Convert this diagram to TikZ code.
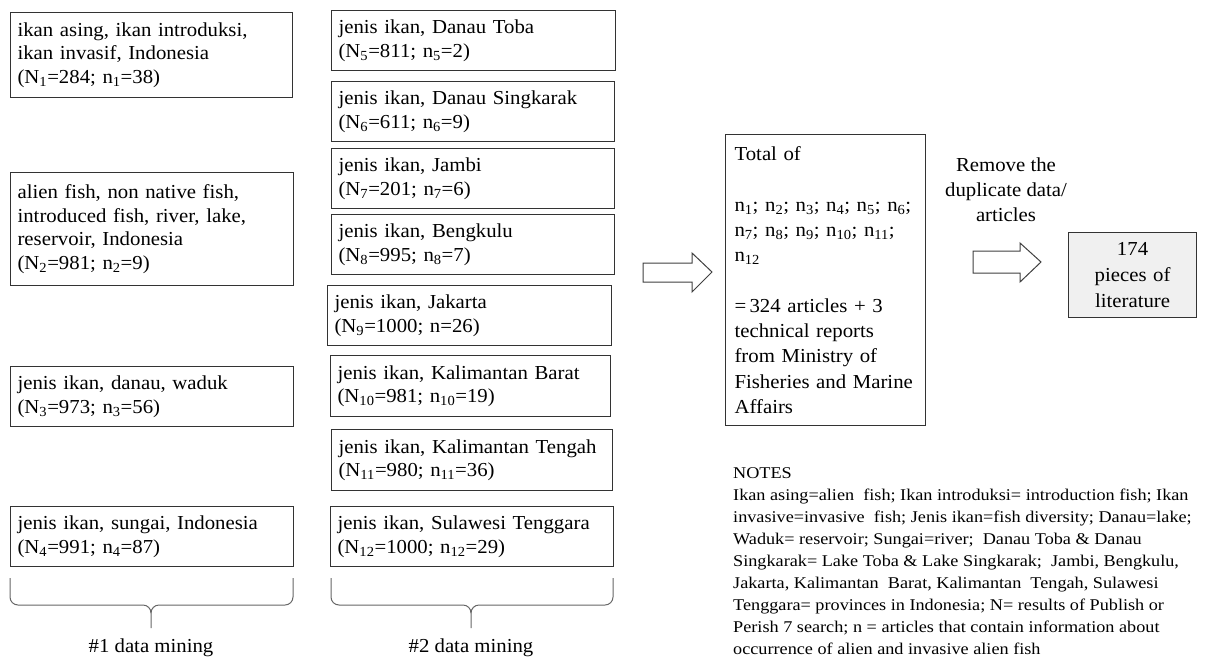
\documentclass[tikz,border=0pt]{standalone}
\usepackage{fontspec}
\setmainfont{Liberation Serif}[FakeStretch=1.05]
\newfontfamily\notesfont{Liberation Serif}[FakeStretch=1.11]
\begin{document}
\begin{tikzpicture}[x=1pt,y=-1pt,
  box/.style={draw=black!80, line width=1.1pt, anchor=north west, inner xsep=7pt, inner ysep=0pt,
    align=left, font=\fontsize{19.8}{23.5}\selectfont},
  blockarrow/.style={draw=black!75, line width=1pt, fill=white},
  bracepath/.style={draw=black!60, line width=1pt},
  lbl/.style={font=\fontsize{19.8}{25}\selectfont, align=center, inner sep=0pt}]
\useasboundingbox (0,0) rectangle (1206,656);
% left column
\node[box, text width=268pt, minimum height=85pt] (b1) at (10,12)
  {ikan asing, ikan introduksi,\\ikan invasif, Indonesia\\(N\textsubscript{1}=284; n\textsubscript{1}=38)};
\node[box, text width=269pt, minimum height=113pt] (b2) at (10,172)
  {alien fish, non native fish,\\introduced fish, river, lake,\\reservoir, Indonesia\\(N\textsubscript{2}=981; n\textsubscript{2}=9)};
\node[box, text width=269pt, minimum height=60pt] (b3) at (10,366)
  {jenis ikan, danau, waduk\\(N\textsubscript{3}=973; n\textsubscript{3}=56)};
\node[box, text width=269pt, minimum height=60pt] (b4) at (10,506)
  {jenis ikan, sungai, Indonesia\\(N\textsubscript{4}=991; n\textsubscript{4}=87)};
% middle column
\node[box, text width=270pt, minimum height=60pt] (b5) at (331,10)
  {jenis ikan, Danau Toba\\(N\textsubscript{5}=811; n\textsubscript{5}=2)};
\node[box, text width=269pt, minimum height=60pt] (b6) at (331,81)
  {jenis ikan, Danau Singkarak\\(N\textsubscript{6}=611; n\textsubscript{6}=9)};
\node[box, text width=269pt, minimum height=60pt] (b7) at (331,148)
  {jenis ikan, Jambi\\(N\textsubscript{7}=201; n\textsubscript{7}=6)};
\node[box, text width=269pt, minimum height=60pt] (b8) at (331,214)
  {jenis ikan, Bengkulu\\(N\textsubscript{8}=995; n\textsubscript{8}=7)};
\node[box, text width=270pt, minimum height=60pt] (b9) at (327,285)
  {jenis ikan, Jakarta\\(N\textsubscript{9}=1000; n=26)};
\node[box, text width=266pt, minimum height=61pt] (b10) at (330,355)
  {jenis ikan, Kalimantan Barat\\(N\textsubscript{10}=981; n\textsubscript{10}=19)};
\node[box, text width=267pt, minimum height=61pt] (b11) at (331,429)
  {jenis ikan, Kalimantan Tengah\\(N\textsubscript{11}=980; n\textsubscript{11}=36)};
\node[box, text width=269pt, minimum height=60pt] (b12) at (330,506)
  {jenis ikan, Sulawesi Tenggara\\(N\textsubscript{12}=1000; n\textsubscript{12}=29)};
% total box
\node[box, inner xsep=9pt, text width=182pt, minimum height=291pt, font=\fontsize{19.8}{25.3}\selectfont] (tot) at (725,134)
  {Total of\\[25.3pt]n\textsubscript{1}; n\textsubscript{2}; n\textsubscript{3}; n\textsubscript{4}; n\textsubscript{5}; n\textsubscript{6};\\
   n\textsubscript{7}; n\textsubscript{8}; n\textsubscript{9}; n\textsubscript{10}; n\textsubscript{11};\\
   n\textsubscript{12}\\[25.3pt]=\,324 articles + 3\\technical reports\\from Ministry of\\Fisheries and Marine\\Affairs};
% final box
\node[box, fill=black!6, align=center, inner xsep=0pt, text width=128pt, minimum height=85pt, font=\fontsize{19.8}{26}\selectfont] (fin) at (1068,232)
  {174\\pieces of\\literature};
% arrows
\path[blockarrow] (643,263) -- (692,263) -- (692,253) -- (712,272) -- (692,292) -- (692,282) -- (643,282) -- cycle;
\path[blockarrow] (973,251) -- (1020,251) -- (1020,243) -- (1041,262) -- (1020,282) -- (1020,273) -- (973,273) -- cycle;
\node[lbl] (rem) at (1006,190) {Remove the\\duplicate data/\\articles};
% braces
\coordinate (l1) at (10,578); \coordinate (r1) at (293,578); \coordinate (t1) at (151,628);
\coordinate (l2) at (331,578); \coordinate (r2) at (613,578); \coordinate (t2) at (471,628);
\draw[bracepath] (l1) -- (10,597) to[out=-90,in=180] (18,605) -- (143,605) to[out=0,in=90] (t1|-0,613) -- (t1);
\draw[bracepath] (t1|-0,613) to[out=90,in=180] (159,605) -- (285,605) to[out=0,in=-90] (293,597) -- (r1);
\draw[bracepath] (l2) -- (331,597) to[out=-90,in=180] (339,605) -- (463,605) to[out=0,in=90] (t2|-0,613) -- (t2);
\draw[bracepath] (t2|-0,613) to[out=90,in=180] (479,605) -- (605,605) to[out=0,in=-90] (613,597) -- (r2);
\node[lbl, anchor=base] (m1) at (151,652) {\#1 data mining};
\node[lbl, anchor=base] (m2) at (471,652) {\#2 data mining};
% notes
\node[anchor=north west, inner sep=0pt, align=left, font=\notesfont\fontsize{16.4}{22}\selectfont] (notes) at (733,467)
  {NOTES\\
  Ikan asing=alien\ \ fish; Ikan introduksi= introduction fish; Ikan\\
  invasive=invasive\ \ fish; Jenis ikan=fish diversity; Danau=lake;\\
  Waduk= reservoir; Sungai=river;\ \ Danau Toba \& Danau\\
  Singkarak= Lake Toba \& Lake Singkarak;\ \ Jambi, Bengkulu,\\
  Jakarta, Kalimantan\ \ Barat, Kalimantan\ \ Tengah, Sulawesi\\
  Tenggara= provinces in Indonesia; N= results of Publish or\\
  Perish 7 search; n = articles that contain information about\\
  occurrence of alien and invasive alien fish};
\end{tikzpicture}
\end{document}
